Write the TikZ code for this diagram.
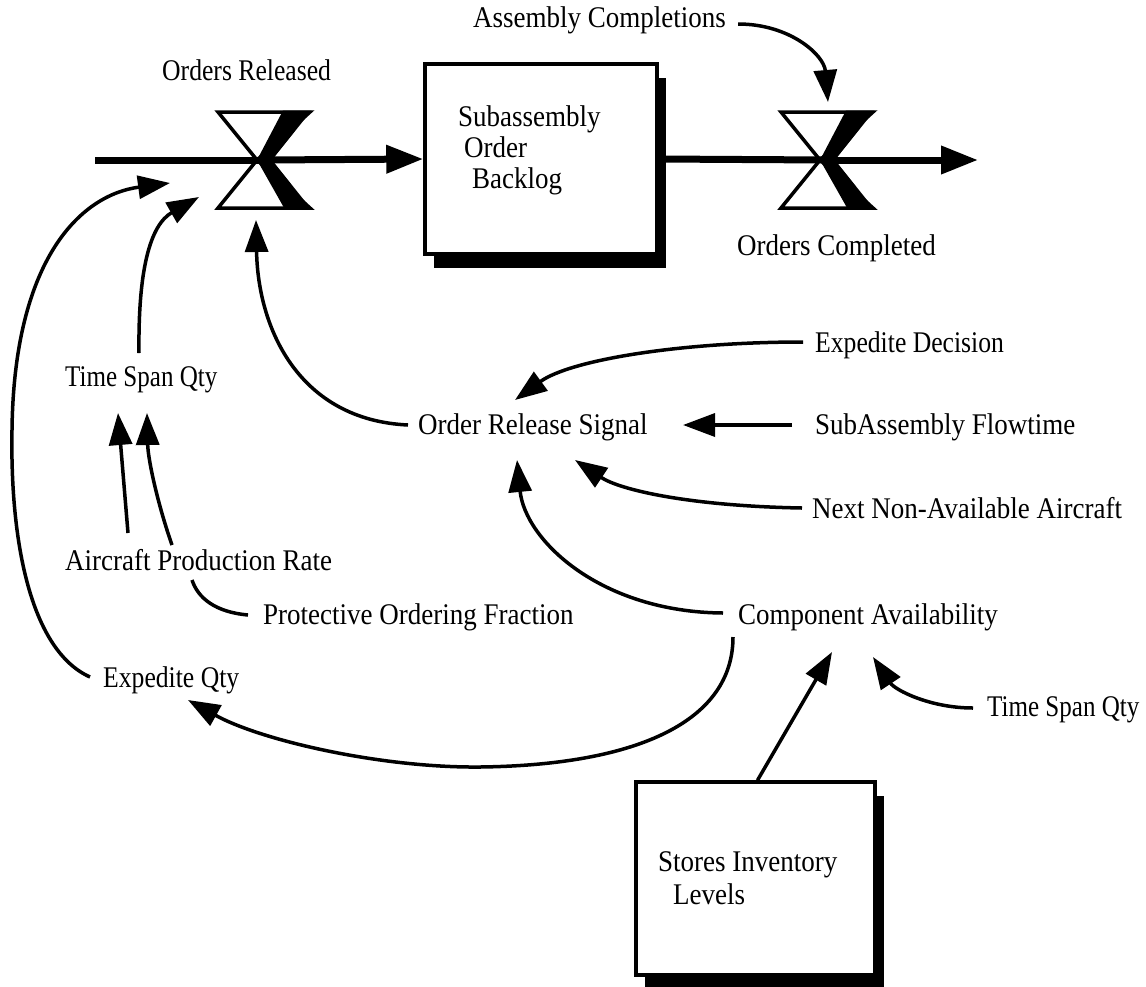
\documentclass[tikz,border=0pt]{standalone}
\usepackage{fontspec}
\setmainfont{Liberation Serif}[FakeStretch=0.9]
\newfontfamily\snugfont{Liberation Serif}[FakeStretch=0.855]
\newfontfamily\snuggerfont{Liberation Serif}[FakeStretch=0.835]
\usetikzlibrary{arrows.meta,calc,shadows}

\begin{document}
\begin{tikzpicture}[x=1pt,y=-1pt,
  lbl/.style={inner sep=0pt, anchor=west, font=\fontsize{30}{31}\selectfont},
  snug/.style={font=\fontsize{30}{31}\snugfont},
  snugger/.style={font=\fontsize{30}{31}\snuggerfont},
  infl/.style={line width=3.5pt, -{Triangle[length=32pt,width=23pt]}},
  link/.style={line width=3.5pt},
  pipe/.style={line width=7pt},
  pipeto/.style={pipe, -{Triangle[length=37pt,width=27pt]}},
  stock/.style={draw, line width=3.5pt, fill=white, inner sep=0pt,
    drop shadow={shadow xshift=9pt, shadow yshift=-14pt, fill=black, opacity=1}},
  valve/.pic={
    % hourglass outline with a heavy right-hand chevron
    \draw[line width=3.5pt, line join=miter]
      (-46,-48) -- (46,-48) -- (-7,0) -- (46,48) -- (-46,48) -- (-7,0) -- cycle;
    \fill (19,-49.5) -- (47.5,-49.5) -- (8,0) -- (47.5,49.5) -- (21,49.5) -- (-7,0) -- cycle;
  }
]
\useasboundingbox (0,0) rectangle (1146,986);

% stocks
\node[stock, minimum width=232pt, minimum height=190pt] (sob) at (541,159) {};
\node[stock, minimum width=239pt, minimum height=193pt] (sil) at (755.5,878.5) {};
\node[lbl, align=left] (sobtxt) at (458,150) {Subassembly\\\hspace*{6pt}Order\\\hspace*{14pt}Backlog};
\node[lbl, align=left] (siltxt) at (658,878) {Stores Inventory\\[2pt]\hspace*{15pt}Levels};

% auxiliaries and rates
\node[lbl] (acomp) at (473,20) {Assembly Completions};
\node[lbl, snug] (ordrel) at (162,70) {Orders Released};
\node[lbl] (ordcomp) at (737,248) {Orders Completed};
\node[lbl, snugger] (tsq1) at (65,380) {Time Span Qty};
\node[lbl] (apr) at (65,560) {Aircraft Production Rate};
\node[lbl] (pof) at (263,617) {Protective Ordering Fraction};
\node[lbl, snug] (eq) at (103,680) {Expedite Qty};
\node[lbl] (ors) at (418,427) {Order Release Signal};
\node[lbl, snug] (ed) at (815,345) {Expedite Decision};
\node[lbl] (saf) at (815,427) {SubAssembly Flowtime};
\node[lbl] (nna) at (812,508) {Next Non-Available Aircraft};
\node[lbl] (ca) at (738,617) {Component Availability};
\node[lbl, snugger] (tsq2) at (987,710) {Time Span Qty};

% material flow
\coordinate (src) at (95,160);
\coordinate (sink) at (978,160);
\coordinate (v1) at (264,160);
\coordinate (v2) at (827,160);
\draw[pipe] (src) -- (v1);
\draw[pipeto] (v1) -- (sob.west);
\draw[pipe] (sob.east) -- (v2);
\draw[pipeto] (v2) -- (sink);
\pic at (v1) {valve};
\pic at (v2) {valve};

% information links
\draw[infl] ($(acomp.east)+(12,4)$) .. controls (790,24) and (824,55) .. ($(v2)+(1,-58)$);
\draw[infl] ($(eq.west)+(-13,-3)$) .. controls (30,650) and (10,540) .. (12,430)
  .. controls (14,260) and (80,195) .. ($(v1)+(-94,23)$);
\draw[infl] ($(tsq1.west)+(74,-27)$) .. controls (138,270) and (150,225) .. ($(v1)+(-65,37)$);
\draw[infl] ($(ors.west)+(-10,-2)$) .. controls (300,420) and (258,330) .. ($(v1)+(-8,60)$);
\draw[infl] ($(ed.west)+(-12,-3)$) .. controls (680,342) and (570,360) .. ($(ors.west)+(97,-27)$);
\draw[infl] ($(saf.west)+(-23,-2)$) -- ($(ors.west)+(265,-2)$);
\draw[infl] ($(nna.west)+(-10,0)$) .. controls (690,506) and (620,490) .. ($(ors.west)+(157,33)$);
\draw[infl] ($(ca.west)+(-15,-4)$) .. controls (600,612) and (525,540) .. ($(ors.west)+(99,33)$);
\draw[infl] ($(ca.west)+(-5,20)$) .. controls (733,720) and (640,765) .. (480,767)
  .. controls (380,768) and (260,740) .. ($(eq.west)+(85,20)$);
\draw[infl] ($(sil.north)+(2,0)$) -- ($(ca.west)+(94,35)$);
\draw[infl] ($(tsq2.west)+(-14,-2)$) .. controls (930,708) and (895,690) .. ($(ca.west)+(135,40)$);
\draw[infl] ($(apr.west)+(63,-27)$) -- ($(tsq1.west)+(53,33)$);
\draw[link] ($(pof.west)+(-15,-2)$) .. controls (215,612) and (198,598) .. ($(apr.west)+(127,20)$);
\draw[infl] ($(apr.west)+(107,-15)$) .. controls (158,505) and (148,460) .. ($(tsq1.west)+(82,33)$);
\end{tikzpicture}
\end{document}
